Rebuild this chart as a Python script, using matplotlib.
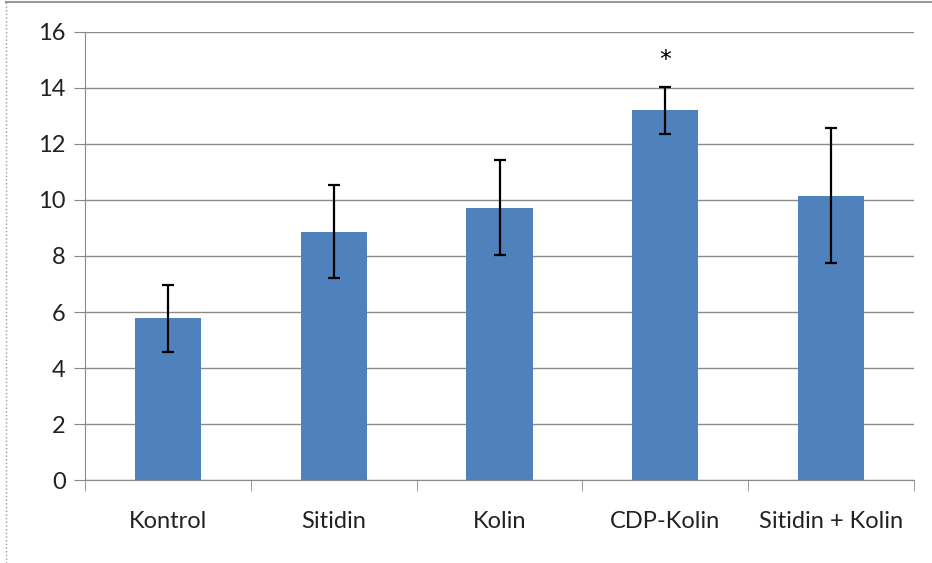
import numpy as np
import matplotlib.pyplot as plt
from matplotlib.lines import Line2D

categories = ['Kontrol', 'Sitidin', 'Kolin', 'CDP-Kolin', 'Sitidin + Kolin']
means = [5.77, 8.87, 9.73, 13.2, 10.16]
errors = [1.2, 1.66, 1.7, 0.84, 2.4]
marks = ['', '', '', '*', '']

plt.rcParams['font.family'] = ['Lato', 'DejaVu Sans']

fig = plt.figure(figsize=(9.32, 5.63), dpi=100)
ax = fig.add_axes([0.0912, 0.1474, 0.8895, 0.7958])

x = np.arange(len(categories))
ax.bar(x, means, width=0.4, color='#4F81BD', zorder=3)
ax.errorbar(x, means, yerr=errors, fmt='none', ecolor='black',
            elinewidth=1.6, capsize=4, capthick=1.6, zorder=4)
for xi, s in zip(x, marks):
    if s:
        ax.text(xi, 15.0, s, ha='center', va='center', fontsize=17, family='DejaVu Sans')

ax.set_xlim(-0.5, len(categories) - 0.5)
ax.set_ylim(0, 16)
ax.set_yticks(range(0, 17, 2))
ax.set_xticks(x)
ax.set_xticklabels(categories)
ax.set_xticks(np.arange(-0.5, len(categories)), minor=True)
ax.tick_params(axis='x', which='major', length=0, pad=22, labelsize=17, colors='#222222')
ax.tick_params(axis='x', which='minor', length=8, color='#888888', direction='out')
ax.tick_params(axis='y', length=8, color='#888888', labelsize=17, colors='#222222', pad=6)

ax.yaxis.grid(True, color='#8c8c8c', linewidth=1, zorder=0)
for side in ['top', 'right']:
    ax.spines[side].set_visible(False)
for side in ['left', 'bottom']:
    ax.spines[side].set_color('#888888')

# outer frame of the chart
fig.add_artist(Line2D([6 / 932, 6 / 932], [0, 1 - 2 / 563], color='#999999', lw=1, linestyle=':'))
fig.add_artist(Line2D([6 / 932, 1], [1 - 2 / 563, 1 - 2 / 563], color='#999999', lw=1.5))

fig.savefig('out.png', dpi=100)
